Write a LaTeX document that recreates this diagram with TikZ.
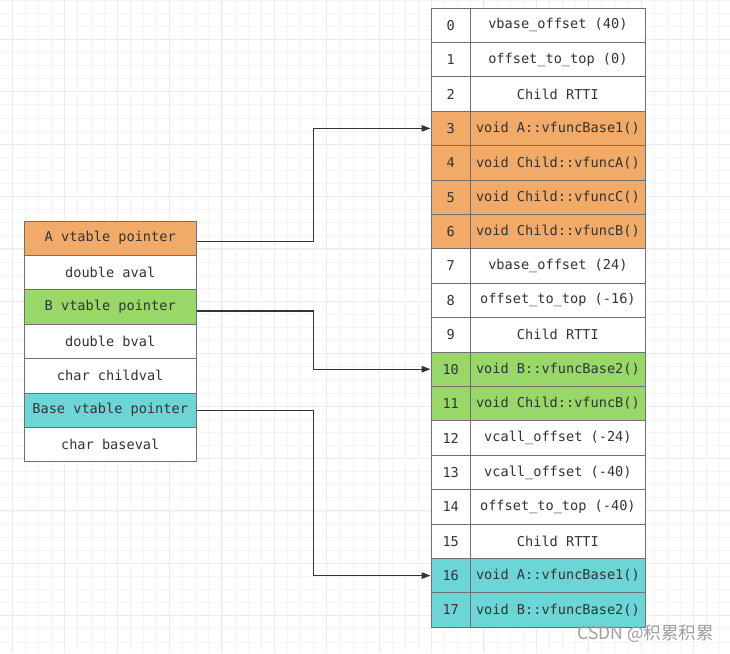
\documentclass[tikz,border=0pt]{standalone}
\usepackage{fontspec}
\newfontfamily\codefont{DejaVu Sans Mono}
\newfontfamily\cjkfont{Noto Sans CJK SC}
\usetikzlibrary{arrows.meta}
\definecolor{vtorange}{RGB}{241,170,104}
\definecolor{vtgreen}{RGB}{151,216,104}
\definecolor{vtcyan}{RGB}{108,214,214}
\definecolor{cellline}{RGB}{112,112,112}
\definecolor{inktext}{RGB}{51,51,51}
\definecolor{gridminor}{RGB}{245,245,245}
\definecolor{gridmajor}{RGB}{236,236,236}
\tikzset{
  cell/.style={draw=cellline, line width=0.9pt, fill=white, text=inktext,
    font=\codefont\fontsize{13.6}{16}\selectfont, inner sep=0pt, minimum height=34.4pt},
  leftcell/.style={cell, minimum width=171.7pt},
  idxcell/.style={cell, minimum width=39.5pt},
  slotcell/.style={cell, minimum width=174.8pt},
  link/.style={draw=inktext, line width=1.1pt, -{Triangle[length=9pt,width=6.5pt]}},
}
\begin{document}
\begin{tikzpicture}[x=1pt, y=-1pt]
        % canvas and grid
        \useasboundingbox (0,0) rectangle (730,653);
        \fill[white] (0,0) rectangle (730,653);
        \begin{scope}
        \clip (0,0) rectangle (730,653);
        \foreach \k in {0,...,56} \draw[gridminor, line width=0.8pt] ({-0.8+13.1*\k},0) -- ({-0.8+13.1*\k},653);
        \foreach \k in {0,...,50} \draw[gridminor, line width=0.8pt] (0,{13.1*\k}) -- (730,{13.1*\k});
        \foreach \k in {0,...,14} \draw[gridmajor, line width=1pt] ({12.3+52.4*\k},0) -- ({12.3+52.4*\k},653);
        \foreach \k in {0,...,12} \draw[gridmajor, line width=1pt] (0,{-13.1+52.4*\k}) -- (730,{-13.1+52.4*\k});
        \end{scope}

        % object layout of Child
        \node[leftcell, fill=vtorange] (pA) at (110.2,238.2) {A vtable pointer};
        \node[leftcell] (aval) at (110.2,272.6) {double aval};
        \node[leftcell, fill=vtgreen] (pB) at (110.2,307.0) {B vtable pointer};
        \node[leftcell] (bval) at (110.2,341.4) {double bval};
        \node[leftcell] (childval) at (110.2,375.8) {char childval};
        \node[leftcell, fill=vtcyan] (pBase) at (110.2,410.2) {Base vtable pointer};
        \node[leftcell] (baseval) at (110.2,444.6) {char baseval};

        % vtable of Child
        \node[idxcell] (i0) at (450.7,25.2) {0};
        \node[slotcell] (s0) at (557.9,25.2) {vbase\_offset (40)};
        \node[idxcell] (i1) at (450.7,59.6) {1};
        \node[slotcell] (s1) at (557.9,59.6) {offset\_to\_top (0)};
        \node[idxcell] (i2) at (450.7,94.0) {2};
        \node[slotcell] (s2) at (557.9,94.0) {Child RTTI};
        \node[idxcell, fill=vtorange] (i3) at (450.7,128.4) {3};
        \node[slotcell, fill=vtorange] (s3) at (557.9,128.4) {void A::vfuncBase1()};
        \node[idxcell, fill=vtorange] (i4) at (450.7,162.8) {4};
        \node[slotcell, fill=vtorange] (s4) at (557.9,162.8) {void Child::vfuncA()};
        \node[idxcell, fill=vtorange] (i5) at (450.7,197.2) {5};
        \node[slotcell, fill=vtorange] (s5) at (557.9,197.2) {void Child::vfuncC()};
        \node[idxcell, fill=vtorange] (i6) at (450.7,231.6) {6};
        \node[slotcell, fill=vtorange] (s6) at (557.9,231.6) {void Child::vfuncB()};
        \node[idxcell] (i7) at (450.7,266.0) {7};
        \node[slotcell] (s7) at (557.9,266.0) {vbase\_offset (24)};
        \node[idxcell] (i8) at (450.7,300.4) {8};
        \node[slotcell] (s8) at (557.9,300.4) {offset\_to\_top (-16)};
        \node[idxcell] (i9) at (450.7,334.8) {9};
        \node[slotcell] (s9) at (557.9,334.8) {Child RTTI};
        \node[idxcell, fill=vtgreen] (i10) at (450.7,369.2) {10};
        \node[slotcell, fill=vtgreen] (s10) at (557.9,369.2) {void B::vfuncBase2()};
        \node[idxcell, fill=vtgreen] (i11) at (450.7,403.6) {11};
        \node[slotcell, fill=vtgreen] (s11) at (557.9,403.6) {void Child::vfuncB()};
        \node[idxcell] (i12) at (450.7,438.0) {12};
        \node[slotcell] (s12) at (557.9,438.0) {vcall\_offset (-24)};
        \node[idxcell] (i13) at (450.7,472.4) {13};
        \node[slotcell] (s13) at (557.9,472.4) {vcall\_offset (-40)};
        \node[idxcell] (i14) at (450.7,506.8) {14};
        \node[slotcell] (s14) at (557.9,506.8) {offset\_to\_top (-40)};
        \node[idxcell] (i15) at (450.7,541.2) {15};
        \node[slotcell] (s15) at (557.9,541.2) {Child RTTI};
        \node[idxcell, fill=vtcyan] (i16) at (450.7,575.6) {16};
        \node[slotcell, fill=vtcyan] (s16) at (557.9,575.6) {void A::vfuncBase1()};
        \node[idxcell, fill=vtcyan] (i17) at (450.7,610.0) {17};
        \node[slotcell, fill=vtcyan] (s17) at (557.9,610.0) {void B::vfuncBase2()};

        % pointers into the vtable
        \coordinate (bend) at (313.5,0);
        \draw[link] ([yshift=-3pt]pA.east) -- ([yshift=-3pt]pA.east -| bend) |- (i3.west);
        \draw[link] ([yshift=-4pt]pB.east) -- ([yshift=-4pt]pB.east -| bend) |- (i10.west);
        \draw[link] (pBase.east) -- (pBase.east -| bend) |- (i16.west);

        \node[text=gray!75, font=\cjkfont\fontsize{17.5}{20}\selectfont, inner sep=0pt] (mark) at (645.5,634) {CSDN @积累积累};
\end{tikzpicture}
\end{document}
